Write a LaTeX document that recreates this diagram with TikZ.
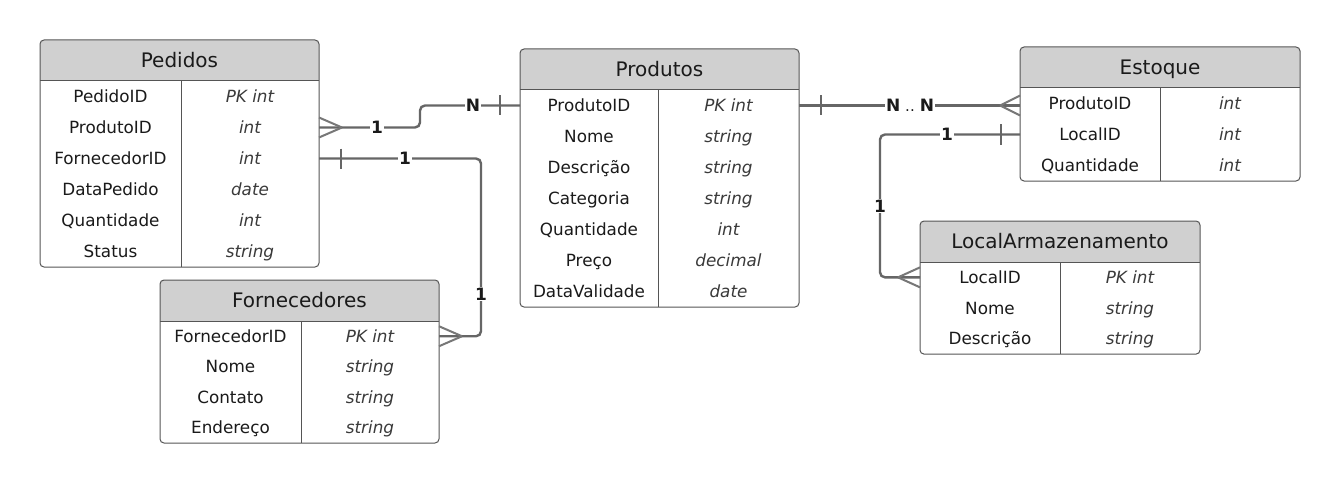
\documentclass[tikz,border=0pt]{standalone}
\usepackage{fontspec}
\setmainfont{DejaVu Sans}
\usetikzlibrary{calc}
\definecolor{headcol}{HTML}{D0D0D0}
\definecolor{bordercol}{HTML}{555555}
\definecolor{linkcol}{HTML}{666666}
\definecolor{crowcol}{HTML}{777777}
\definecolor{txtcol}{HTML}{1A1A1A}
\definecolor{typcol}{HTML}{3A3A3A}
\tikzset{
  tbl/.style={draw=bordercol, line width=1pt, rounded corners=4pt, inner sep=0pt, outer sep=0pt, anchor=north west, rectangle},
  ttl/.style={font=\fontsize{20}{21}\selectfont, text=txtcol, inner sep=0pt, text height=14.5pt, text depth=0pt},
  attr/.style={font=\fontsize{16.8}{18}\selectfont, text=txtcol, inner sep=0pt, text height=12.2pt, text depth=0pt},
  typ/.style={font=\fontsize{16.8}{18}\selectfont\itshape, text=typcol, inner sep=0pt, text height=12.2pt, text depth=0pt},
  link/.style={draw=linkcol, line width=2.4pt, rounded corners=5pt},
  crow/.style={draw=crowcol, line width=2pt},
  bar/.style={draw=linkcol, line width=2.4pt},
  card/.style={font=\bfseries\fontsize{17}{17}\selectfont, text=txtcol, fill=white, inner sep=1.2pt, text height=12.4pt, text depth=0pt}
}
\newcommand\ertable[9]{%
  \pgfmathsetmacro\tblh{41+#6*#7}%
  \begin{scope}
    \clip[rounded corners=4pt] (#2,#3) rectangle ++(#4,\tblh);
    \fill[white] (#2,#3) rectangle ++(#4,\tblh);
    \fill[headcol] (#2,#3) rectangle ++(#4,41);
  \end{scope}
  \draw[bordercol, line width=1pt] (#2,#3+41) -- ++(#4,0);
  \draw[bordercol, line width=1pt] (#2+#5,#3+41) -- (#2+#5,#3+\tblh);
  \node[tbl, minimum width=#4pt, minimum height=\tblh pt] (#1) at (#2,#3) {};
  \node[ttl] (#1-title) at ({#2+#4/2},{#3+20.5}) {#8};
  \foreach \a/\b [count=\i] in {#9} {
    \node[attr] (#1-\i) at ({#2+#5/2},{#3+41+\i*#6-#6/2}) {\a};
    \node[typ] (#1-t\i) at ({#2+#5+(#4-#5)/2},{#3+41+\i*#6-#6/2}) {\b};
  }
}
\begin{document}
\begin{tikzpicture}[x=1pt,y=-1pt]
\useasboundingbox[fill=white] (0,0) rectangle (1340,484);

\ertable{ped}{40}{40}{279}{141}{31}{6}{Pedidos}{PedidoID/PK int, ProdutoID/int, FornecedorID/int, DataPedido/date, Quantidade/int, Status/string}
\ertable{for}{160}{280}{279}{141}{30.5}{4}{Fornecedores}{FornecedorID/PK int, Nome/string, Contato/string, Endereço/string}
\ertable{pro}{520}{49}{279}{138}{31}{7}{Produtos}{ProdutoID/PK int, Nome/string, Descrição/string, Categoria/string, Quantidade/int, Preço/decimal, DataValidade/date}
\ertable{est}{1020}{47}{280}{140}{31}{3}{Estoque}{ProdutoID/int, LocalID/int, Quantidade/int}
\ertable{loc}{920}{221}{280}{140}{30.7}{3}{LocalArmazenamento}{LocalID/PK int, Nome/string, Descrição/string}

% Pedidos.ProdutoID -> Produtos
\coordinate (l1s) at (ped.east |- ped-2);
\coordinate (l1e) at (pro.west |- pro-1);
\coordinate (l1x) at (420,0);
\draw[link] (l1s) -- (l1x |- l1s) -- (l1x |- l1e) -- (l1e);
\draw[crow] ([xshift=23pt]l1s) -- ([yshift=10pt]l1s) ([xshift=23pt]l1s) -- ([yshift=-10pt]l1s);
\draw[bar] ([xshift=-20pt,yshift=10pt]l1e) -- ([xshift=-20pt,yshift=-10pt]l1e);
\node[card] (c1a) at ([xshift=58pt]l1s) {1};
\node[card] (c1b) at ([xshift=-47pt]l1e) {N};

% Pedidos.FornecedorID -> Fornecedores
\coordinate (l2s) at (ped.east |- ped-3);
\coordinate (l2e) at (for.east |- for-1);
\coordinate (l2x) at (481,0);
\draw[link] (l2s) -- (l2x |- l2s) -- (l2x |- l2e) -- (l2e);
\draw[bar] ([xshift=22pt,yshift=10pt]l2s) -- ([xshift=22pt,yshift=-10pt]l2s);
\draw[crow] ([xshift=23pt]l2e) -- ([yshift=10pt]l2e) ([xshift=23pt]l2e) -- ([yshift=-10pt]l2e);
\node[card] (c2a) at ([xshift=86pt]l2s) {1};
\coordinate (l2m) at (0,294);
\node[card] (c2b) at (l2x |- l2m) {1};

% Produtos -> Estoque
\coordinate (l3s) at (pro.east |- pro-1);
\coordinate (l3e) at (est.west |- l3s);
\draw[link] (l3s) -- (l3e);
\draw[bar] ([xshift=22pt,yshift=10pt]l3s) -- ([xshift=22pt,yshift=-10pt]l3s);
\draw[crow] ([xshift=-20pt]l3e) -- ([yshift=10pt]l3e) ([xshift=-20pt]l3e) -- ([yshift=-10pt]l3e);
\node[card] (c3) at ([xshift=111pt]l3s) {N{\mdseries\fontsize{15}{15}\selectfont\,\,..\,\,}N};

% Estoque.LocalID -> LocalArmazenamento
\coordinate (l4s) at (est.west |- est-2);
\coordinate (l4e) at (loc.west |- loc-1);
\coordinate (l4x) at (880,0);
\draw[link] (l4s) -- (l4x |- l4s) -- (l4x |- l4e) -- (l4e);
\draw[bar] ([xshift=-19pt,yshift=10pt]l4s) -- ([xshift=-19pt,yshift=-10pt]l4s);
\draw[crow] ([xshift=-22pt]l4e) -- ([yshift=10pt]l4e) ([xshift=-22pt]l4e) -- ([yshift=-10pt]l4e);
\node[card] (c4a) at ([xshift=-73pt]l4s) {1};
\coordinate (l4m) at (0,206);
\node[card] (c4b) at (l4x |- l4m) {1};
\end{tikzpicture}
\end{document}
